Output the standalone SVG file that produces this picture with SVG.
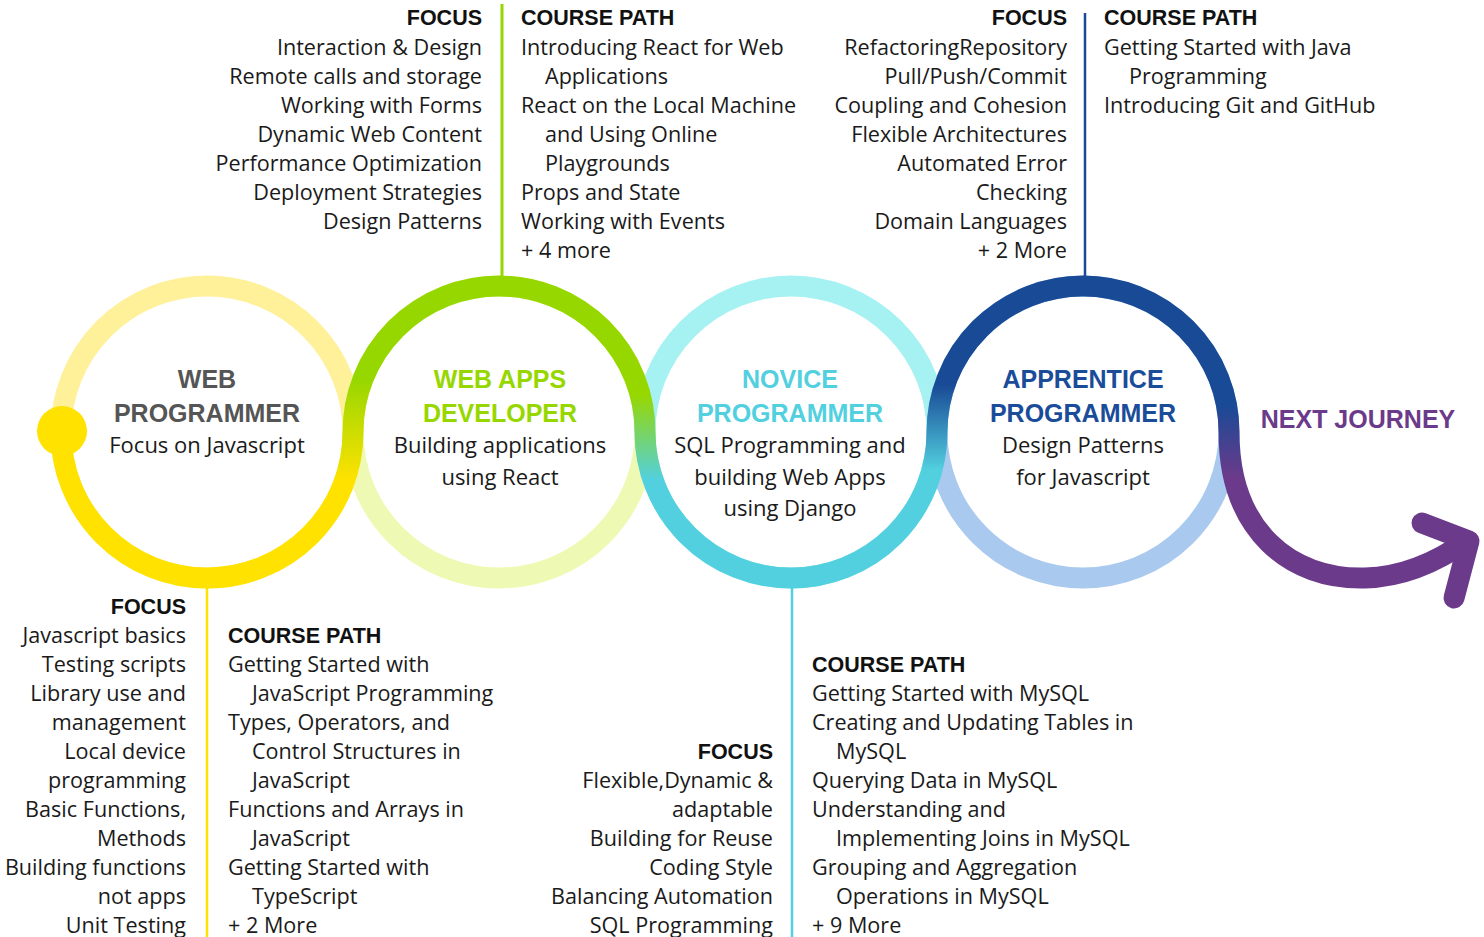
<svg xmlns="http://www.w3.org/2000/svg" width="1484" height="937" viewBox="0 0 1484 937">
<style>
.h{font-family:"Liberation Sans",Arial,sans-serif;font-weight:bold;font-size:21.5px;fill:#111}
.t{font-family:"Open Sans","DejaVu Sans",sans-serif;font-size:21.6px;fill:#1a1a1a}
.e{text-anchor:end}
.ch{font-family:"Liberation Sans",Arial,sans-serif;font-weight:bold;font-size:25px;text-anchor:middle}
.cb{font-family:"Open Sans","DejaVu Sans",sans-serif;font-size:22px;fill:#1a1a1a;text-anchor:middle}
.ring{fill:none;stroke-width:21}
</style>
<defs>
<linearGradient id="g1" gradientUnits="userSpaceOnUse" x1="0" y1="480" x2="0" y2="380"><stop offset="0" stop-color="#FFE200"/><stop offset="1" stop-color="#97D700"/></linearGradient>
<linearGradient id="g2" gradientUnits="userSpaceOnUse" x1="0" y1="395" x2="0" y2="480"><stop offset="0" stop-color="#97D700"/><stop offset="1" stop-color="#52D0DF"/></linearGradient>
<linearGradient id="g3" gradientUnits="userSpaceOnUse" x1="0" y1="385" x2="0" y2="470"><stop offset="0" stop-color="#194A96"/><stop offset="1" stop-color="#52D0DF"/></linearGradient>
<linearGradient id="g4" gradientUnits="userSpaceOnUse" x1="0" y1="405" x2="0" y2="478"><stop offset="0" stop-color="#194A96"/><stop offset="1" stop-color="#6C3A8A"/></linearGradient>
</defs>
<g id="track">
<circle class="ring" cx="207" cy="432" r="146" stroke="#FFF09A"/>
<circle class="ring" cx="499" cy="432" r="146" stroke="#EEFAB4"/>
<circle class="ring" cx="791" cy="432" r="146" stroke="#A6F1F1"/>
<circle class="ring" cx="1083" cy="432" r="146" stroke="#A9C9EF"/>
<path class="ring" d="M61,432 A146,146 0 0 0 207,578" stroke="#FFE200"/>
<path class="ring" d="M207,578 A146,146 0 0 0 353,432" stroke="url(#g1)"/>
<path class="ring" d="M353,432 A146,146 0 0 1 499,286" stroke="url(#g1)"/>
<path class="ring" d="M499,286 A146,146 0 0 1 645,432" stroke="url(#g2)"/>
<path class="ring" d="M645,432 A146,146 0 0 0 791,578" stroke="url(#g2)"/>
<path class="ring" d="M791,578 A146,146 0 0 0 937,432" stroke="url(#g3)"/>
<path class="ring" d="M937,432 A146,146 0 0 1 1083,286" stroke="url(#g3)"/>
<path class="ring" d="M1083,286 A146,146 0 0 1 1229,432" stroke="url(#g4)"/>
<circle cx="62" cy="431" r="25" fill="#FFE200"/>
</g>
<g id="connectors">
<line x1="207" y1="586" x2="207" y2="937" stroke="#FFE200" stroke-width="2.5"/>
<line x1="502" y1="4" x2="502" y2="278" stroke="#97D700" stroke-width="3"/>
<line x1="792" y1="586" x2="792" y2="937" stroke="#52D0DF" stroke-width="2.5"/>
<line x1="1085" y1="13" x2="1085" y2="277" stroke="#194A96" stroke-width="2.5"/>
<path d="M1229,432 C1229,530 1290,580 1365,578 C1405,577 1440,560 1468,540" fill="none" stroke="url(#g4)" stroke-width="21"/>
<path d="M1422,523 L1469,541 L1454,598" fill="none" stroke="#6C3A8A" stroke-width="21" stroke-linecap="round" stroke-linejoin="round"/>
</g>
<g id="node-web-programmer">
<text class="ch" x="207" y="387.5" fill="#555555">WEB</text>
<text class="ch" x="207" y="421.5" fill="#555555">PROGRAMMER</text>
<text class="cb" x="207" y="453">Focus on Javascript</text>
</g>
<g id="node-web-apps-developer">
<text class="ch" x="500" y="387.5" fill="#97D700">WEB APPS</text>
<text class="ch" x="500" y="421.5" fill="#97D700">DEVELOPER</text>
<text class="cb" x="500" y="453">Building applications</text>
<text class="cb" x="500" y="485">using React</text>
</g>
<g id="node-novice-programmer">
<text class="ch" x="790" y="387.5" fill="#52D0DF">NOVICE</text>
<text class="ch" x="790" y="421.5" fill="#52D0DF">PROGRAMMER</text>
<text class="cb" x="790" y="453">SQL Programming and</text>
<text class="cb" x="790" y="485">building Web Apps</text>
<text class="cb" x="790" y="516">using Django</text>
</g>
<g id="node-apprentice-programmer">
<text class="ch" x="1083" y="387.5" fill="#1A4C9A">APPRENTICE</text>
<text class="ch" x="1083" y="421.5" fill="#1A4C9A">PROGRAMMER</text>
<text class="cb" x="1083" y="453">Design Patterns</text>
<text class="cb" x="1083" y="485">for Javascript</text>
</g>
<g id="node-next-journey">
<text class="ch" x="1358" y="428" fill="#6C3A8A">NEXT JOURNEY</text>
</g>
<g id="info-web-programmer">
<text class="h e" x="186" y="613.5">FOCUS</text>
<text class="t e" x="186" y="642.5">Javascript basics</text>
<text class="t e" x="186" y="671.5">Testing scripts</text>
<text class="t e" x="186" y="700.5">Library use and</text>
<text class="t e" x="186" y="729.5">management</text>
<text class="t e" x="186" y="758.5">Local device</text>
<text class="t e" x="186" y="787.5">programming</text>
<text class="t e" x="186" y="816.5">Basic Functions,</text>
<text class="t e" x="186" y="845.5">Methods</text>
<text class="t e" x="186" y="874.5">Building functions</text>
<text class="t e" x="186" y="903.5">not apps</text>
<text class="t e" x="186" y="932.5">Unit Testing</text>
<text class="h" x="228" y="642.5">COURSE PATH</text>
<text class="t" x="228" y="671.5">Getting Started with</text>
<text class="t" x="252" y="700.5">JavaScript Programming</text>
<text class="t" x="228" y="729.5">Types, Operators, and</text>
<text class="t" x="252" y="758.5">Control Structures in</text>
<text class="t" x="252" y="787.5">JavaScript</text>
<text class="t" x="228" y="816.5">Functions and Arrays in</text>
<text class="t" x="252" y="845.5">JavaScript</text>
<text class="t" x="228" y="874.5">Getting Started with</text>
<text class="t" x="252" y="903.5">TypeScript</text>
<text class="t" x="228" y="932.5">+ 2 More</text>
</g>
<g id="info-web-apps-developer">
<text class="h e" x="482" y="24.5">FOCUS</text>
<text class="t e" x="482" y="54.5">Interaction &amp; Design</text>
<text class="t e" x="482" y="83.5">Remote calls and storage</text>
<text class="t e" x="482" y="112.5">Working with Forms</text>
<text class="t e" x="482" y="141.5">Dynamic Web Content</text>
<text class="t e" x="482" y="170.5">Performance Optimization</text>
<text class="t e" x="482" y="199.5">Deployment Strategies</text>
<text class="t e" x="482" y="228.5">Design Patterns</text>
<text class="h" x="521" y="24.5">COURSE PATH</text>
<text class="t" x="521" y="54.5">Introducing React for Web</text>
<text class="t" x="545" y="83.5">Applications</text>
<text class="t" x="521" y="112.5">React on the Local Machine</text>
<text class="t" x="545" y="141.5">and Using Online</text>
<text class="t" x="545" y="170.5">Playgrounds</text>
<text class="t" x="521" y="199.5">Props and State</text>
<text class="t" x="521" y="228.5">Working with Events</text>
<text class="t" x="521" y="257.5">+ 4 more</text>
</g>
<g id="info-novice-programmer">
<text class="h e" x="773" y="758.5">FOCUS</text>
<text class="t e" x="773" y="787.5">Flexible,Dynamic &amp;</text>
<text class="t e" x="773" y="816.5">adaptable</text>
<text class="t e" x="773" y="845.5">Building for Reuse</text>
<text class="t e" x="773" y="874.5">Coding Style</text>
<text class="t e" x="773" y="903.5">Balancing Automation</text>
<text class="t e" x="773" y="932.5">SQL Programming</text>
<text class="h" x="812" y="671.5">COURSE PATH</text>
<text class="t" x="812" y="700.5">Getting Started with MySQL</text>
<text class="t" x="812" y="729.5">Creating and Updating Tables in</text>
<text class="t" x="836" y="758.5">MySQL</text>
<text class="t" x="812" y="787.5">Querying Data in MySQL</text>
<text class="t" x="812" y="816.5">Understanding and</text>
<text class="t" x="836" y="845.5">Implementing Joins in MySQL</text>
<text class="t" x="812" y="874.5">Grouping and Aggregation</text>
<text class="t" x="836" y="903.5">Operations in MySQL</text>
<text class="t" x="812" y="932.5">+ 9 More</text>
</g>
<g id="info-apprentice-programmer">
<text class="h e" x="1067" y="24.5">FOCUS</text>
<text class="t e" x="1067" y="54.5">RefactoringRepository</text>
<text class="t e" x="1067" y="83.5">Pull/Push/Commit</text>
<text class="t e" x="1067" y="112.5">Coupling and Cohesion</text>
<text class="t e" x="1067" y="141.5">Flexible Architectures</text>
<text class="t e" x="1067" y="170.5">Automated Error</text>
<text class="t e" x="1067" y="199.5">Checking</text>
<text class="t e" x="1067" y="228.5">Domain Languages</text>
<text class="t e" x="1067" y="257.5">+ 2 More</text>
<text class="h" x="1104" y="24.5">COURSE PATH</text>
<text class="t" x="1104" y="54.5">Getting Started with Java</text>
<text class="t" x="1129" y="83.5">Programming</text>
<text class="t" x="1104" y="112.5">Introducing Git and GitHub</text>
</g>
</svg>
